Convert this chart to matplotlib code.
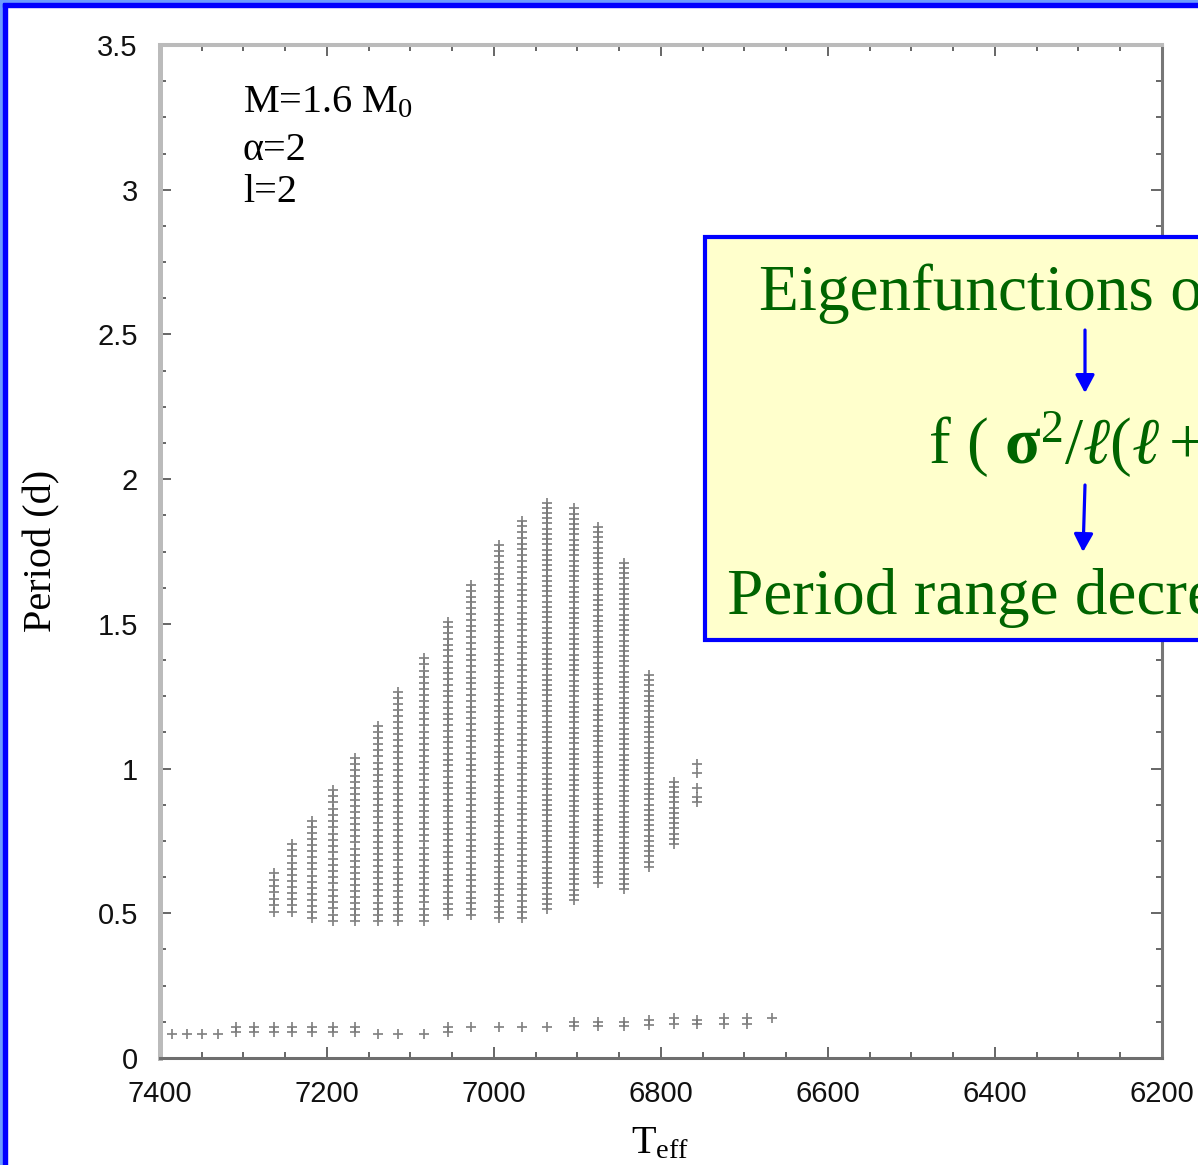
import numpy as np
import matplotlib
matplotlib.use("Agg")
import matplotlib.pyplot as plt
from matplotlib.patches import Rectangle, FancyArrowPatch
from matplotlib.ticker import MultipleLocator, FuncFormatter

plt.rcParams["font.family"] = ["Liberation Serif", "DejaVu Serif"]
plt.rcParams["mathtext.fontset"] = "custom"
plt.rcParams["mathtext.rm"] = "Liberation Serif"
plt.rcParams["mathtext.it"] = "Liberation Serif:italic"
plt.rcParams["mathtext.bf"] = "Liberation Serif:bold"

# l=2 modes of each model: Teff, shortest / longest period and number of modes
col_teff = [7263, 7242, 7218, 7193, 7166, 7139, 7115, 7084, 7055, 7027,
            6994, 6967, 6936, 6904, 6875, 6844, 6814, 6784]
col_pmin = [0.506, 0.506, 0.483, 0.474, 0.474, 0.474, 0.474, 0.474, 0.494, 0.494,
            0.483, 0.483, 0.514, 0.546, 0.606, 0.583, 0.661, 0.739]
col_pmax = [0.638, 0.739, 0.820, 0.926, 1.036, 1.147, 1.266, 1.381, 1.508, 1.634,
            1.773, 1.857, 1.919, 1.899, 1.836, 1.711, 1.323, 0.955]
col_nmodes = [7, 12, 17, 22, 28, 33, 39, 44, 52, 58, 66, 70, 79, 76, 69, 64, 38, 13]

# coolest model, only a few modes
last_teff = 6757
last_periods = [0.886, 0.903, 0.932, 0.986, 1.016]

# short-period modes along the bottom
low_teff = [7386, 7368, 7350, 7330, 7309, 7309, 7287, 7287, 7263, 7263, 7242, 7242,
            7218, 7218, 7193, 7193, 7166, 7166, 7139, 7115, 7084, 7055, 7055, 7027,
            6994, 6967, 6936, 6904, 6904, 6875, 6875, 6844, 6844, 6814, 6814,
            6784, 6784, 6757, 6757, 6725, 6725, 6697, 6697, 6667]
low_period = [0.082, 0.082, 0.082, 0.082, 0.108, 0.089, 0.108, 0.089, 0.108, 0.089, 0.108, 0.089,
              0.108, 0.089, 0.108, 0.089, 0.108, 0.089, 0.082, 0.082, 0.082, 0.108, 0.089, 0.107,
              0.107, 0.107, 0.107, 0.126, 0.110, 0.126, 0.110, 0.124, 0.110, 0.131, 0.114,
              0.137, 0.117, 0.133, 0.116, 0.137, 0.119, 0.137, 0.119, 0.138]

W, H = 1198, 1165
fig = plt.figure(figsize=(W / 100, H / 100), dpi=100)
ax = fig.add_axes([160 / W, 1 - 1058 / H, (1162 - 160) / W, (1058 - 45) / H])

mk = dict(marker="+", linestyle="none", color="#767676", ms=7.6, mew=1.25, alpha=0.9)
for t, p0, p1, n in zip(col_teff, col_pmin, col_pmax, col_nmodes):
    per = np.linspace(p0, p1, n)
    ax.plot(np.full(n, t), per, **mk)
ax.plot([last_teff] * len(last_periods), last_periods, **mk)
ax.plot(low_teff, low_period, **mk)

ax.set_xlim(7400, 6200)
ax.set_ylim(0, 3.5)
ax.xaxis.set_major_locator(MultipleLocator(200))
ax.xaxis.set_minor_locator(MultipleLocator(50))
ax.yaxis.set_major_locator(MultipleLocator(0.5))
ax.yaxis.set_minor_locator(MultipleLocator(0.125))
ax.yaxis.set_major_formatter(FuncFormatter(lambda v, p: f"{v:g}"))

ax.tick_params(which="both", direction="in", top=True, right=True,
               color="#666666", width=1.4, labelsize=21, pad=16,
               labelcolor="#111111", labelfontfamily="Liberation Sans")
ax.tick_params(which="major", length=8)
ax.tick_params(which="minor", length=4.3)

ax.spines["left"].set_color("#bbbbbb")
ax.spines["left"].set_linewidth(3.6)
ax.spines["top"].set_color("#bbbbbb")
ax.spines["top"].set_linewidth(2.9)
ax.spines["right"].set_color("#777777")
ax.spines["right"].set_linewidth(2.2)
ax.spines["bottom"].set_color("#6e6e6e")
ax.spines["bottom"].set_linewidth(2.2)

fig.text(42 / W, 1 - 551 / H, "Period (d)", rotation=90, ha="center", va="center", fontsize=29)
fig.text(660 / W, 1 - 1153 / H, r"T$_{\mathrm{eff}}$", ha="center", va="baseline", fontsize=29)

fig.text(243 / W, 1 - 112 / H, r"M=1.6 M$_{\mathrm{0}}$", va="baseline", fontsize=29)
fig.text(243 / W, 1 - 160 / H, "α=2", va="baseline", fontsize=29)
fig.text(243 / W, 1 - 202 / H, "l=2", va="baseline", fontsize=29)

# yellow comment box of the slide (runs off the right edge, as in the original)
box = Rectangle((705 / W, 1 - 640 / H), 0.5, (640 - 237) / H, transform=fig.transFigure,
                facecolor="#ffffcc", edgecolor="#0000ff", linewidth=3, zorder=3)
fig.add_artist(box)
green = "#006400"
fig.text(759 / W, 1 - 310 / H, "Eigenfunctions of g modes", color=green, fontsize=47,
         va="baseline", zorder=4)
fig.text(928 / W, 1 - 463 / H, r"f ( $\mathbf{\sigma}^{\mathrm{2}}/\ell(\ell+1)$ )", color=green,
         fontsize=47, va="baseline", zorder=4)
fig.text(727 / W, 1 - 614 / H, "Period range decreases", color=green, fontsize=47,
         va="baseline", zorder=4)

for (x0, y0), (x1, y1) in [((1085, 330), (1085, 393)), ((1085, 485), (1083, 552))]:
    arr = FancyArrowPatch((x0 / W, 1 - y0 / H), (x1 / W, 1 - y1 / H), transform=fig.transFigure,
                          arrowstyle="-|>,head_length=0.6,head_width=0.32", mutation_scale=18,
                          color="#0000ff", lw=2.3, shrinkA=0, shrinkB=0, zorder=5)
    fig.add_artist(arr)

# slide frame (left and top edges)
fig.add_artist(Rectangle((0, 0), 3 / W, 1, transform=fig.transFigure, color="#6c9cff", zorder=6))
fig.add_artist(Rectangle((3 / W, 0), 4 / W, 1, transform=fig.transFigure, color="#0000ff", zorder=6))
fig.add_artist(Rectangle((0, 1 - 3 / H), 1, 3 / H, transform=fig.transFigure, color="#6c9cff", zorder=6))
fig.add_artist(Rectangle((3 / W, 1 - 7 / H), 1, 4 / H, transform=fig.transFigure, color="#0000ff", zorder=6))

fig.savefig("out.png", dpi=100)
